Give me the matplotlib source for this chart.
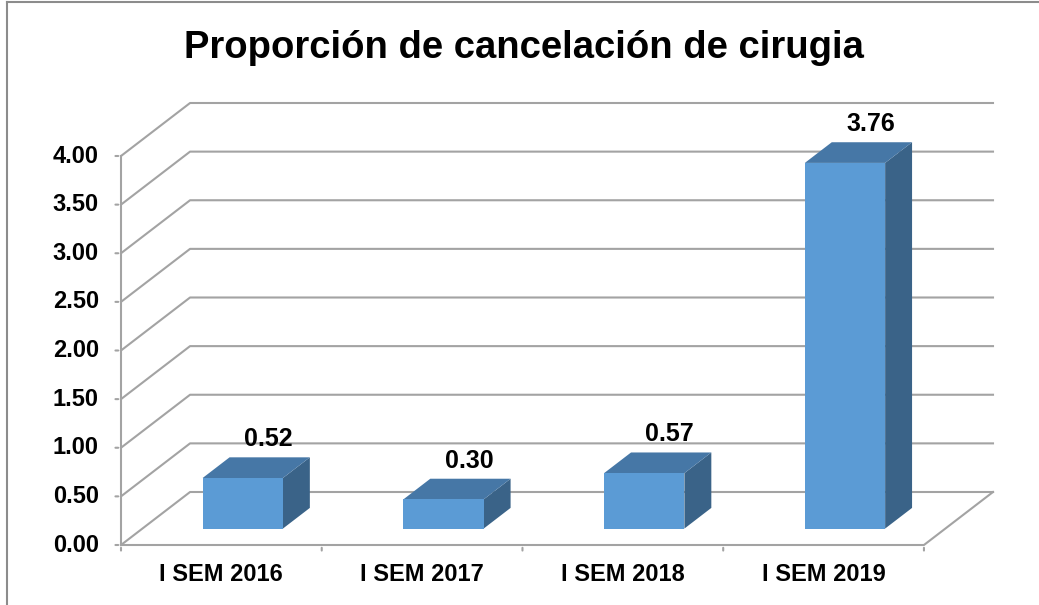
import matplotlib.pyplot as plt
from matplotlib.patches import Polygon
from matplotlib.lines import Line2D

# datos
categorias = ["I SEM 2016", "I SEM 2017", "I SEM 2018", "I SEM 2019"]
valores = [0.52, 0.30, 0.57, 3.76]
ticks_y = [0.0, 0.5, 1.0, 1.5, 2.0, 2.5, 3.0, 3.5, 4.0]
titulo = "Proporción de cancelación de cirugia"

# profundidad del efecto 3D (en unidades de datos)
prof_x = 0.344
prof_y = 0.545
ini_barra = 0.31      # fraccion de profundidad donde empieza la barra
fondo_barra = 0.39    # profundidad de la barra
media_barra = 0.2     # medio ancho de la barra

c_frente = "#5B9BD5"
c_arriba = "#4677A6"
c_lado = "#3A6388"
c_grid = "#A3A3A3"
fuente = "Liberation Sans"

fig = plt.figure(figsize=(10.39, 6.05), dpi=100)
W, H = 1039, 605
ax = fig.add_axes([121 / W, 1 - 545 / H, (993 - 121) / W, (545 - 103) / H])
ax.set_xlim(0, len(categorias) + prof_x)
ax.set_ylim(0, ticks_y[-1] + prof_y)
ax.axis("off")

n = len(categorias)

# paredes: lineas de division
for t in ticks_y:
    ax.plot([0, prof_x, n + prof_x], [t, t + prof_y, t + prof_y],
            color=c_grid, lw=1.5, clip_on=False, zorder=1)
# suelo
ax.plot([0, n, n + prof_x], [0, 0, prof_y], color=c_grid, lw=1.5,
        clip_on=False, zorder=1)
# eje vertical y marcas
ax.plot([0, 0], [0, ticks_y[-1]], color=c_grid, lw=1.5, clip_on=False, zorder=1)
for t in ticks_y:
    ax.annotate("", xy=(0, t), xytext=(-6, 0), textcoords="offset points",
                arrowprops=dict(arrowstyle="-", color=c_grid, lw=1.5))
    ax.annotate(f"{t:.2f}", xy=(0, t), xytext=(-16, 0), textcoords="offset points",
                ha="right", va="center", fontsize=17, fontweight="bold",
                family=fuente)
for i in range(n + 1):
    ax.annotate("", xy=(i, 0), xytext=(0, -6), textcoords="offset points",
                arrowprops=dict(arrowstyle="-", color=c_grid, lw=1.5))

# barras
for i, v in enumerate(valores):
    ox, oy = ini_barra * prof_x, ini_barra * prof_y
    dx, dy = fondo_barra * prof_x, fondo_barra * prof_y
    x0 = i + 0.5 - media_barra + ox
    x1 = i + 0.5 + media_barra + ox
    y0, y1 = oy, oy + v
    lado = Polygon([(x1, y0), (x1 + dx, y0 + dy), (x1 + dx, y1 + dy), (x1, y1)],
                   closed=True, fc=c_lado, ec="none", zorder=3, clip_on=False)
    arriba = Polygon([(x0, y1), (x1, y1), (x1 + dx, y1 + dy), (x0 + dx, y1 + dy)],
                     closed=True, fc=c_arriba, ec="none", zorder=3, clip_on=False)
    frente = Polygon([(x0, y0), (x1, y0), (x1, y1), (x0, y1)],
                     closed=True, fc=c_frente, ec="none", zorder=4, clip_on=False)
    for p in (lado, arriba, frente):
        ax.add_patch(p)
    ax.annotate(f"{v:.2f}", xy=(i + 0.5 + ox + 0.95 * dx, y1 + dy),
                xytext=(0, 13), textcoords="offset points", ha="center", va="center",
                fontsize=18, fontweight="bold", family=fuente, zorder=5)
    ax.annotate(categorias[i], xy=(i + 0.5, 0), xytext=(0, -21), textcoords="offset points",
                ha="center", va="center", fontsize=17, fontweight="bold",
                family=fuente)

fig.text(524 / W, 1 - 58 / H, titulo, ha="center", va="baseline", fontsize=27.5,
         fontweight="bold", family=fuente)

# marco del grafico
fig.add_artist(Line2D([6.5 / W, 6.5 / W], [0, 1 - 1.5 / H], color="#8C8C8C", lw=1.5))
fig.add_artist(Line2D([6.5 / W, 1], [1 - 1.5 / H, 1 - 1.5 / H], color="#8C8C8C", lw=1.5))

fig.savefig("out.png", dpi=100)
